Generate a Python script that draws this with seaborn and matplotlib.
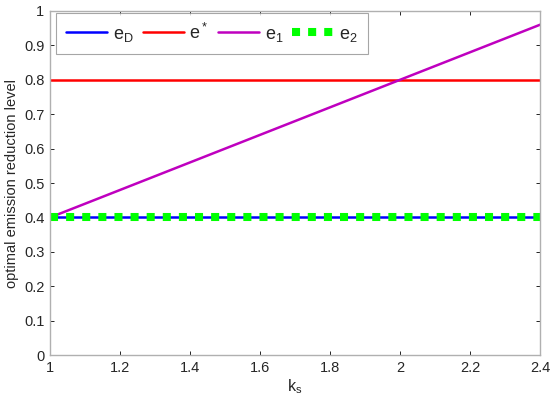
import numpy as np
import pandas as pd
import matplotlib
matplotlib.use("Agg")
import matplotlib.pyplot as plt
import seaborn as sns

# values
ks = [1.0, 1.2, 1.4, 1.6, 1.8, 2.0, 2.2, 2.4]
e_D = [0.4, 0.4, 0.4, 0.4, 0.4, 0.4, 0.4, 0.4]
e_star = [0.8, 0.8, 0.8, 0.8, 0.8, 0.8, 0.8, 0.8]
e_1 = [0.40, 0.48, 0.56, 0.64, 0.72, 0.80, 0.88, 0.96]
e_2 = [0.4, 0.4, 0.4, 0.4, 0.4, 0.4, 0.4, 0.4]

df = pd.DataFrame({"ks": ks, "eD": e_D, "estar": e_star, "e1": e_1, "e2": e_2})

sns.set_style("white")
plt.rcParams["font.family"] = ["Liberation Sans", "DejaVu Sans"]
plt.rcParams["mathtext.fontset"] = "custom"
plt.rcParams["mathtext.rm"] = "Liberation Sans"

fig = plt.figure(figsize=(5.5, 4.05), dpi=100)
ax = fig.add_axes([0.091, 0.123, 0.891, 0.850])

sns.lineplot(data=df, x="ks", y="eD", ax=ax, color="#0000ff", lw=1.8,
             label=r"e$_\mathrm{D}$")
sns.lineplot(data=df, x="ks", y="estar", ax=ax, color="#ff0000", lw=1.8,
             label=r"e$^*$")
sns.lineplot(data=df, x="ks", y="e1", ax=ax, color="#bf00bf", lw=1.8,
             label=r"e$_\mathrm{1}$")
sns.lineplot(data=df, x="ks", y="e2", ax=ax, color="#00ff00", lw=5.8,
             linestyle=(0, (1, 1.0)), dash_capstyle="butt",
             label=r"e$_\mathrm{2}$")

ax.set_xlim(1, 2.4)
ax.set_ylim(0, 1)
ax.set_xticks([1, 1.2, 1.4, 1.6, 1.8, 2, 2.2, 2.4])
ax.set_xticklabels(["1", "1.2", "1.4", "1.6", "1.8", "2", "2.2", "2.4"])
ax.set_yticks(np.arange(0, 1.01, 0.1))
ax.set_yticklabels(["0", "0.1", "0.2", "0.3", "0.4", "0.5", "0.6", "0.7", "0.8", "0.9", "1"])
ax.tick_params(direction="in", length=3, width=0.6, labelsize=10.5,
               top=True, right=True, bottom=True, left=True, color="black", pad=4)
for s in ax.spines.values():
    s.set_visible(True)
    s.set_color("#b0b0b0")
    s.set_linewidth(1.0)

ax.set_xlabel(r"k$_\mathrm{s}$", fontsize=11.5, labelpad=2)
ax.set_ylabel("optimal emission reduction level", fontsize=10.5, labelpad=4)

leg = ax.legend(loc="upper left", ncol=4, frameon=True, fancybox=False,
                fontsize=13, handlelength=2.3, handletextpad=0.3, columnspacing=0.5,
                borderpad=0.55, bbox_to_anchor=(0.012, 0.995), borderaxespad=0)
leg.get_frame().set_edgecolor("#909090")
leg.get_frame().set_linewidth(0.8)

fig.savefig("out.png", dpi=100)
